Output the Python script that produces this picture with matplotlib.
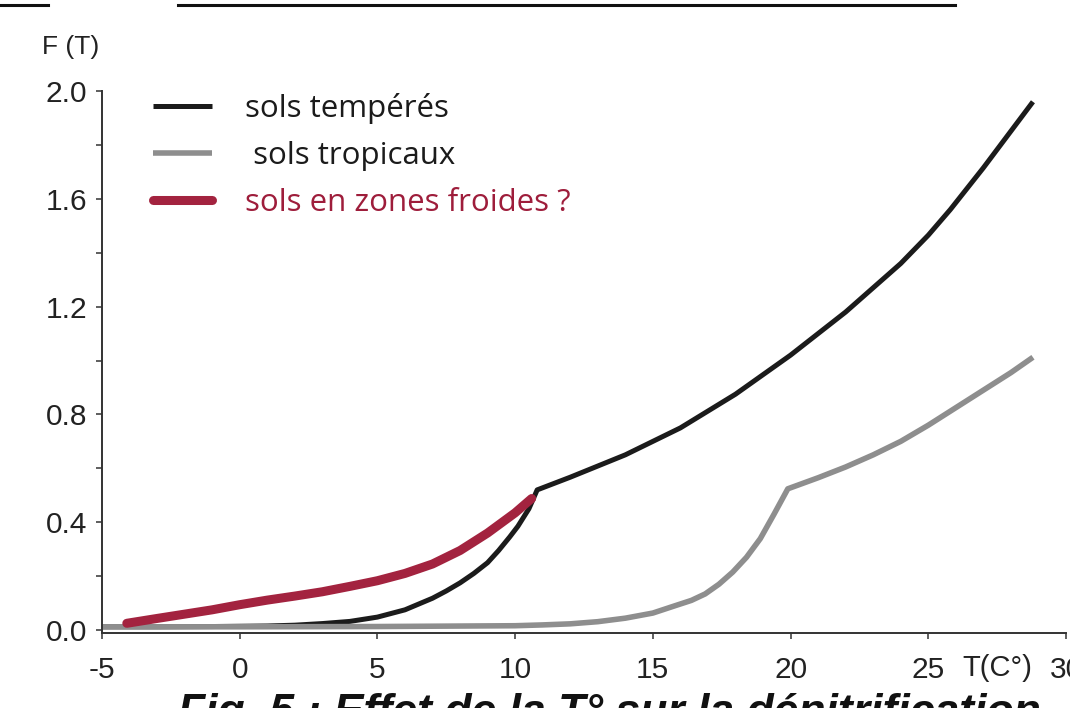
import matplotlib
matplotlib.use("Agg")
import matplotlib.pyplot as plt
from matplotlib.lines import Line2D

# --- data ---
temp_x = [-5, -3, -1, 1, 2, 3, 4, 5, 6, 7, 7.5, 8, 8.5, 9, 9.4, 9.8, 10.1,
          10.5, 10.8, 12, 14, 16, 18, 20, 21, 22, 23, 24, 25, 25.8, 27, 28.8]
temp_y = [0.012, 0.012, 0.013, 0.015, 0.018, 0.024, 0.032, 0.048, 0.075,
          0.118, 0.145, 0.175, 0.21, 0.25, 0.295, 0.345, 0.385, 0.45, 0.52,
          0.567, 0.65, 0.75, 0.875, 1.02, 1.10, 1.18, 1.27, 1.36, 1.465,
          1.56, 1.715, 1.96]

trop_x = [-5, 0, 5, 10, 11, 12, 13, 14, 15, 15.8, 16.4, 16.9, 17.4, 17.9,
          18.4, 18.9, 19.4, 19.9, 21, 22, 23, 24, 25, 26, 27, 28, 28.8]
trop_y = [0.012, 0.012, 0.013, 0.016, 0.019, 0.023, 0.031, 0.044, 0.063,
          0.09, 0.11, 0.134, 0.17, 0.215, 0.27, 0.339, 0.43, 0.524, 0.565,
          0.605, 0.65, 0.70, 0.76, 0.825, 0.89, 0.955, 1.012]

froid_x = [-4.1, -3, -2, -1, 0, 1, 2, 3, 4, 5, 6, 7, 8, 9, 10, 10.6]
froid_y = [0.025, 0.043, 0.059, 0.075, 0.094, 0.111, 0.126, 0.142, 0.162,
           0.183, 0.21, 0.245, 0.295, 0.36, 0.435, 0.488]

labels = ["sols tempérés", " sols tropicaux", "sols en zones froides ?"]
colors = ["#1b1b1b", "#8e8e8e", "#a3233f"]

x_ticks = [-5, 0, 5, 10, 15, 20, 25, 30]
y_ticks = [0.0, 0.2, 0.4, 0.6, 0.8, 1.0, 1.2, 1.4, 1.6, 1.8, 2.0]
y_ticklabels = ["0.0", "", "0.4", "", "0.8", "", "1.2", "", "1.6", "", "2.0"]

plt.rcParams['font.family'] = ['Liberation Sans', 'DejaVu Sans']

W, H = 1070, 708
fig = plt.figure(figsize=(W / 100, H / 100), dpi=100)
ax = fig.add_axes([102 / W, (H - 633) / H, 964 / W, 542 / H])

ax.plot(temp_x, temp_y, color=colors[0], lw=3.6, label=labels[0],
        solid_capstyle='butt', solid_joinstyle='round')
ax.plot(trop_x, trop_y, color=colors[1], lw=4.0, label=labels[1],
        solid_capstyle='butt', solid_joinstyle='round')
ax.plot(froid_x, froid_y, color=colors[2], lw=6.5, label=labels[2],
        solid_capstyle='round', solid_joinstyle='round')

ax.set_xlim(-5, 30)
ax.set_ylim(-0.011, 2.0)
for s in ['top', 'right']:
    ax.spines[s].set_visible(False)
for s in ['left', 'bottom']:
    ax.spines[s].set_color('#333333')
    ax.spines[s].set_linewidth(1.4)

ax.set_xticks(x_ticks)
ax.set_xticklabels([str(v) for v in x_ticks])
ax.set_yticks(y_ticks)
ax.set_yticklabels(y_ticklabels)
ax.tick_params(direction='out', length=4.5, width=1.1, color='#333333',
               labelsize=21.5, labelcolor='#222222')
ax.tick_params(axis='y', pad=6)
ax.tick_params(axis='x', pad=12)

leg = ax.legend(loc='upper left', bbox_to_anchor=(153 / W, 1 - 93 / H),
                bbox_transform=fig.transFigure, frameon=False,
                prop={'family': 'Open Sans', 'size': 22.5},
                handlelength=1.9, handletextpad=1.05, labelspacing=0.55,
                borderaxespad=0, borderpad=0)
for txt, c in zip(leg.get_texts(), ['#1b1b1b', '#1b1b1b', '#9e1d3b']):
    txt.set_color(c)

fig.text(42 / W, 1 - 47 / H, "F (T)", fontsize=19, va='center', ha='left',
         color='#222222')
fig.text(962 / W, 1 - 668 / H, "T(C°)", fontsize=21, va='center', ha='left',
         color='#222222')

# cut-off caption at the bottom and underline remnants at the top
fig.text(178 / W, 1 - 725 / H, "Fig. 5 : Effet de la T° sur la dénitrification",
         fontsize=32, fontweight='bold', fontstyle='italic', va='baseline',
         ha='left', color='#111111')
fig.add_artist(Line2D([0, 48 / W], [1 - 5 / H] * 2, transform=fig.transFigure,
                      color='#111111', lw=2.2))
fig.add_artist(Line2D([178 / W, 955 / W], [1 - 5 / H] * 2,
                      transform=fig.transFigure, color='#111111', lw=2.2))

fig.savefig("out.png", dpi=100)
